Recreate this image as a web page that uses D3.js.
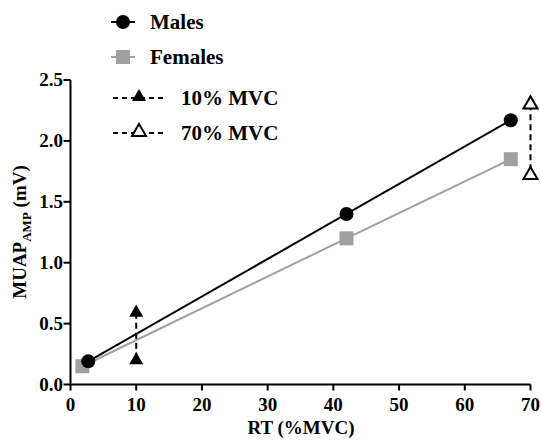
<!DOCTYPE html>
<html>
<head>
<meta charset="utf-8">
<script src="https://cdn.jsdelivr.net/npm/d3@7"></script>
<style>
  body { margin: 0; background: #fff; }
  svg text { font-family: "Liberation Serif", "Times New Roman", serif; font-weight: bold; fill: #000; }
</style>
</head>
<body>
<svg id="chart" width="541" height="442"></svg>
<script>
// data
const malesX = [2.7, 42, 67];
const malesY = [0.19, 1.40, 2.17];
const femalesX = [1.8, 42, 67];
const femalesY = [0.15, 1.20, 1.85];
const mvc10 = [0.59, 0.20];
const mvc70 = [2.30, 1.72];
const xTicks = [0, 10, 20, 30, 40, 50, 60, 70];
const yTicks = [0, 0.5, 1.0, 1.5, 2.0, 2.5];

const svg = d3.select("#chart");
const x = d3.scaleLinear().domain([0, 70]).range([70.5, 530.5]);
const y = d3.scaleLinear().domain([0, 2.5]).range([384.5, 80]);

// axes: lines from d3.axis, labels drawn below as plain text
const xAxis = svg.append("g")
  .attr("transform", "translate(0,384.5)")
  .call(d3.axisBottom(x).tickValues(xTicks).tickFormat(() => "").tickSize(6).tickSizeOuter(0).offset(0));
const yAxis = svg.append("g")
  .attr("transform", "translate(70.5,0)")
  .call(d3.axisLeft(y).tickValues(yTicks).tickFormat(() => "").tickSize(7).tickSizeOuter(0).offset(0));

[xAxis, yAxis].forEach(g => {
  g.select(".domain").attr("stroke", "#000").attr("stroke-width", 2);
  g.selectAll(".tick line").attr("stroke", "#000").attr("stroke-width", 2);
});

svg.append("g").selectAll("text").data(xTicks).join("text")
  .attr("x", d => x(d)).attr("y", 411).attr("text-anchor", "middle")
  .style("font-size", "19px").text(d3.format("d"));
svg.append("g").selectAll("text").data(yTicks).join("text")
  .attr("x", 63).attr("y", d => y(d) + 6).attr("text-anchor", "end")
  .style("font-size", "19px").text(d3.format(".1f"));

// axis titles
svg.append("text").attr("x", 301).attr("y", 434).attr("text-anchor", "middle")
  .style("font-size", "19px").text("RT (%MVC)");
const yt = svg.append("text").attr("transform", "translate(26,232) rotate(-90)")
  .attr("text-anchor", "middle").style("font-size", "19px");
yt.append("tspan").text("MUAP");
yt.append("tspan").attr("dy", 5).style("font-size", "13px").text("AMP");
yt.append("tspan").attr("dy", -5).text(" (mV)");

// series
const line = d3.line().x(d => x(d[0])).y(d => y(d[1]));
const males = malesX.map((v, i) => [v, malesY[i]]);
const females = femalesX.map((v, i) => [v, femalesY[i]]);

svg.append("path").datum(females).attr("d", line).attr("fill", "none")
  .attr("stroke", "#a0a0a0").attr("stroke-width", 2);
svg.selectAll(".fem").data(females).join("rect")
  .attr("x", d => x(d[0]) - 7).attr("y", d => y(d[1]) - 7)
  .attr("width", 14).attr("height", 14).attr("fill", "#a0a0a0");

svg.append("path").datum(males).attr("d", line).attr("fill", "none")
  .attr("stroke", "#000").attr("stroke-width", 2);
svg.selectAll(".mal").data(males).join("circle")
  .attr("cx", d => x(d[0])).attr("cy", d => y(d[1])).attr("r", 7).attr("fill", "#000");

// MVC markers
const tri = d3.symbol().type(d3.symbolTriangle).size(85);
svg.append("line").attr("x1", x(10)).attr("x2", x(10)).attr("y1", y(mvc10[0])).attr("y2", y(mvc10[1]))
  .attr("stroke", "#000").attr("stroke-width", 2).attr("stroke-dasharray", "6,4");
svg.selectAll(".m10").data(mvc10).join("path")
  .attr("transform", d => `translate(${x(10)},${y(d)})`).attr("d", tri).attr("fill", "#000");

svg.append("line").attr("x1", x(70)).attr("x2", x(70)).attr("y1", y(mvc70[0])).attr("y2", y(mvc70[1]))
  .attr("stroke", "#000").attr("stroke-width", 2).attr("stroke-dasharray", "6,4");
svg.selectAll(".m70").data(mvc70).join("path")
  .attr("transform", d => `translate(${x(70)},${y(d)})`).attr("d", tri)
  .attr("fill", "#fff").attr("stroke", "#000").attr("stroke-width", 2);

// legend
const leg = svg.append("g");
leg.append("line").attr("x1", 111).attr("x2", 135).attr("y1", 22).attr("y2", 22).attr("stroke", "#000").attr("stroke-width", 2);
leg.append("circle").attr("cx", 123).attr("cy", 22).attr("r", 7).attr("fill", "#000");
leg.append("text").attr("x", 150).attr("y", 29).style("font-size", "21px").text("Males");

leg.append("line").attr("x1", 111).attr("x2", 135).attr("y1", 57).attr("y2", 57).attr("stroke", "#a0a0a0").attr("stroke-width", 2);
leg.append("rect").attr("x", 116).attr("y", 50).attr("width", 14).attr("height", 14).attr("fill", "#a0a0a0");
leg.append("text").attr("x", 150).attr("y", 64).style("font-size", "21px").text("Females");

leg.append("line").attr("x1", 113).attr("x2", 165).attr("y1", 98).attr("y2", 98)
  .attr("stroke", "#000").attr("stroke-width", 2).attr("stroke-dasharray", "5,4");
leg.append("path").attr("transform", "translate(139,97)").attr("d", tri).attr("fill", "#000");
leg.append("text").attr("x", 181).attr("y", 105).style("font-size", "21px").text("10% MVC");

leg.append("line").attr("x1", 113).attr("x2", 165).attr("y1", 133).attr("y2", 133)
  .attr("stroke", "#000").attr("stroke-width", 2).attr("stroke-dasharray", "5,4");
leg.append("path").attr("transform", "translate(139,132)").attr("d", tri)
  .attr("fill", "#fff").attr("stroke", "#000").attr("stroke-width", 2);
leg.append("text").attr("x", 181).attr("y", 140).style("font-size", "21px").text("70% MVC");
</script>
</body>
</html>
